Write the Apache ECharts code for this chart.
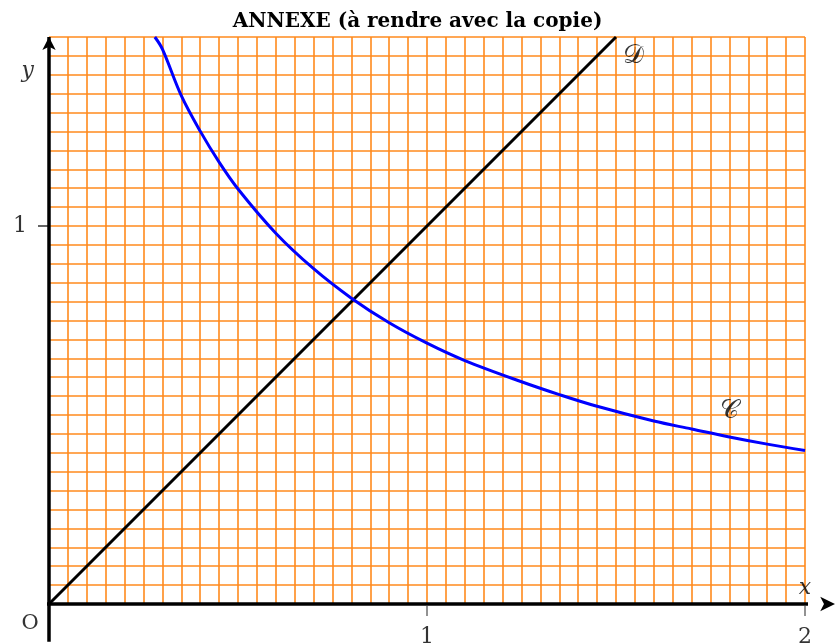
<!DOCTYPE html>
<html>
<head>
<meta charset="utf-8">
<script src="https://cdn.jsdelivr.net/npm/echarts@6/dist/echarts.min.js"></script>
<style>html,body{margin:0;padding:0;background:#fff}#c{width:835px;height:644px}</style>
</head>
<body>
<div id="c"></div>
<script>
// Title
const titleText = 'ANNEXE (à rendre avec la copie)';
// Curve C
const curveX = [0.28, 0.30, 0.35, 0.40, 0.45, 0.50, 0.60, 0.70, 0.80, 0.90, 1.00, 1.10, 1.25, 1.35, 1.45, 1.60, 1.70, 1.80, 1.90, 2.00];
const curveY = [1.50, 1.468, 1.345, 1.251, 1.169, 1.098, 0.981, 0.887, 0.809, 0.744, 0.690, 0.644, 0.588, 0.554, 0.523, 0.484, 0.463, 0.442, 0.423, 0.406];
// Line D : y = x
const lineX = [0, 1.5];
const lineY = [0, 1.5];
// Tick labels
const xTickValues = [1, 2];
const yTickValues = [1];
// Axis extents
const xRange = [0, 2];
const yRange = [0, 1.5];
const gridStep = 0.05;
// Axis lines extents (beyond plotting frame)
const xAxisLineExtent = [-0.1, 2.08];
const yAxisLineExtent = [-0.1, 1.5];
// Label anchors
const labelC = [1.8, 0.51];
const labelD = [1.545, 1.45];

const serif = "'DejaVu Serif','Liberation Serif',serif";
const orange = '#ff8a1c';

const chart = echarts.init(document.getElementById('c'), null, {renderer: 'canvas'});
const option = {
  animation: false,
  title: {
    text: titleText, left: 'center', top: 7,
    textStyle: {fontFamily: serif, fontWeight: 'bold', fontSize: 20, color: '#000'}
  },
  grid: {left: 49, right: 30, top: 37, bottom: 40, containLabel: false},
  xAxis: {
    type: 'value', min: xRange[0], max: xRange[1], interval: gridStep,
    axisLine: {show: false}, axisTick: {show: false}, axisLabel: {show: false},
    splitLine: {show: true, lineStyle: {color: orange, width: 1.6}}
  },
  yAxis: {
    type: 'value', min: yRange[0], max: yRange[1], interval: gridStep,
    axisLine: {show: false}, axisTick: {show: false}, axisLabel: {show: false},
    splitLine: {show: true, lineStyle: {color: orange, width: 1.6}}
  },
  series: [
    {
      // x axis line with arrow
      type: 'line', name: 'xaxisline', clip: false, silent: true, z: 3,
      lineStyle: {color: '#000', width: 3.5}, showSymbol: true,
      data: [
        {value: [xAxisLineExtent[0], 0], symbol: 'none'},
        {value: [xAxisLineExtent[1], 0], symbol: 'arrow', symbolSize: [11, 15], symbolRotate: -90, itemStyle: {color: '#000'}}
      ]
    },
    {
      // y axis line with arrow
      type: 'line', name: 'yaxisline', clip: false, silent: true, z: 3,
      lineStyle: {color: '#000', width: 3.5}, showSymbol: true,
      data: [
        {value: [0, yAxisLineExtent[0]], symbol: 'none'},
        {value: [0, yAxisLineExtent[1]], symbol: 'arrow', symbolSize: [10, 13], symbolRotate: 0, itemStyle: {color: '#000'}}
      ]
    },
    {
      type: 'line', name: 'D', data: lineX.map((x, i) => [x, lineY[i]]),
      showSymbol: false, symbol: 'none', lineStyle: {color: '#000', width: 3}, z: 5
    },
    {
      type: 'line', name: 'C', data: curveX.map((x, i) => [x, curveY[i]]),
      smooth: 0.35, showSymbol: false, symbol: 'none', lineStyle: {color: '#0000ff', width: 3}, z: 6
    },
    {
      // x tick marks and labels
      type: 'scatter', name: 'xticks', silent: true, clip: false, z: 4,
      symbol: 'rect', symbolSize: [2, 10], symbolOffset: [0, 7], itemStyle: {color: '#777'},
      data: xTickValues.map(v => [v, 0]),
      label: {show: true, position: 'bottom', distance: 10, formatter: p => String(p.value[0]), fontFamily: serif, fontSize: 22, color: '#000'}
    },
    {
      // y tick marks and labels
      type: 'scatter', name: 'yticks', silent: true, clip: false, z: 4,
      symbol: 'rect', symbolSize: [10, 1.5], symbolOffset: [-6, 0], itemStyle: {color: '#000'},
      data: yTickValues.map(v => [0, v]),
      label: {show: true, position: 'left', distance: 11, formatter: p => String(p.value[1]), fontFamily: serif, fontSize: 22, color: '#000'}
    },
    {
      type: 'scatter', name: 'labels', symbolSize: 0, silent: true, clip: false, z: 10,
      data: [
        {value: labelC, label: {show: true, formatter: '𝒞', fontFamily: serif, fontSize: 26, color: '#000'}},
        {value: labelD, label: {show: true, formatter: '𝒟', fontFamily: serif, fontSize: 26, color: '#000'}},
        {value: [xRange[1], 0], label: {show: true, formatter: 'x', position: 'top', offset: [0, 0], fontFamily: serif, fontStyle: 'italic', fontSize: 22, color: '#000'}},
        {value: [0, 1.41], label: {show: true, formatter: 'y', position: 'left', offset: [-10, 0], fontFamily: serif, fontStyle: 'italic', fontSize: 22, color: '#000'}},
        {value: [0, 0], label: {show: true, formatter: 'O', position: 'bottom', offset: [-19, 4], fontFamily: serif, fontSize: 21, color: '#000'}}
      ],
      label: {show: true, position: 'inside'}
    }
  ]
};
chart.setOption(option);
</script>
</body>
</html>
